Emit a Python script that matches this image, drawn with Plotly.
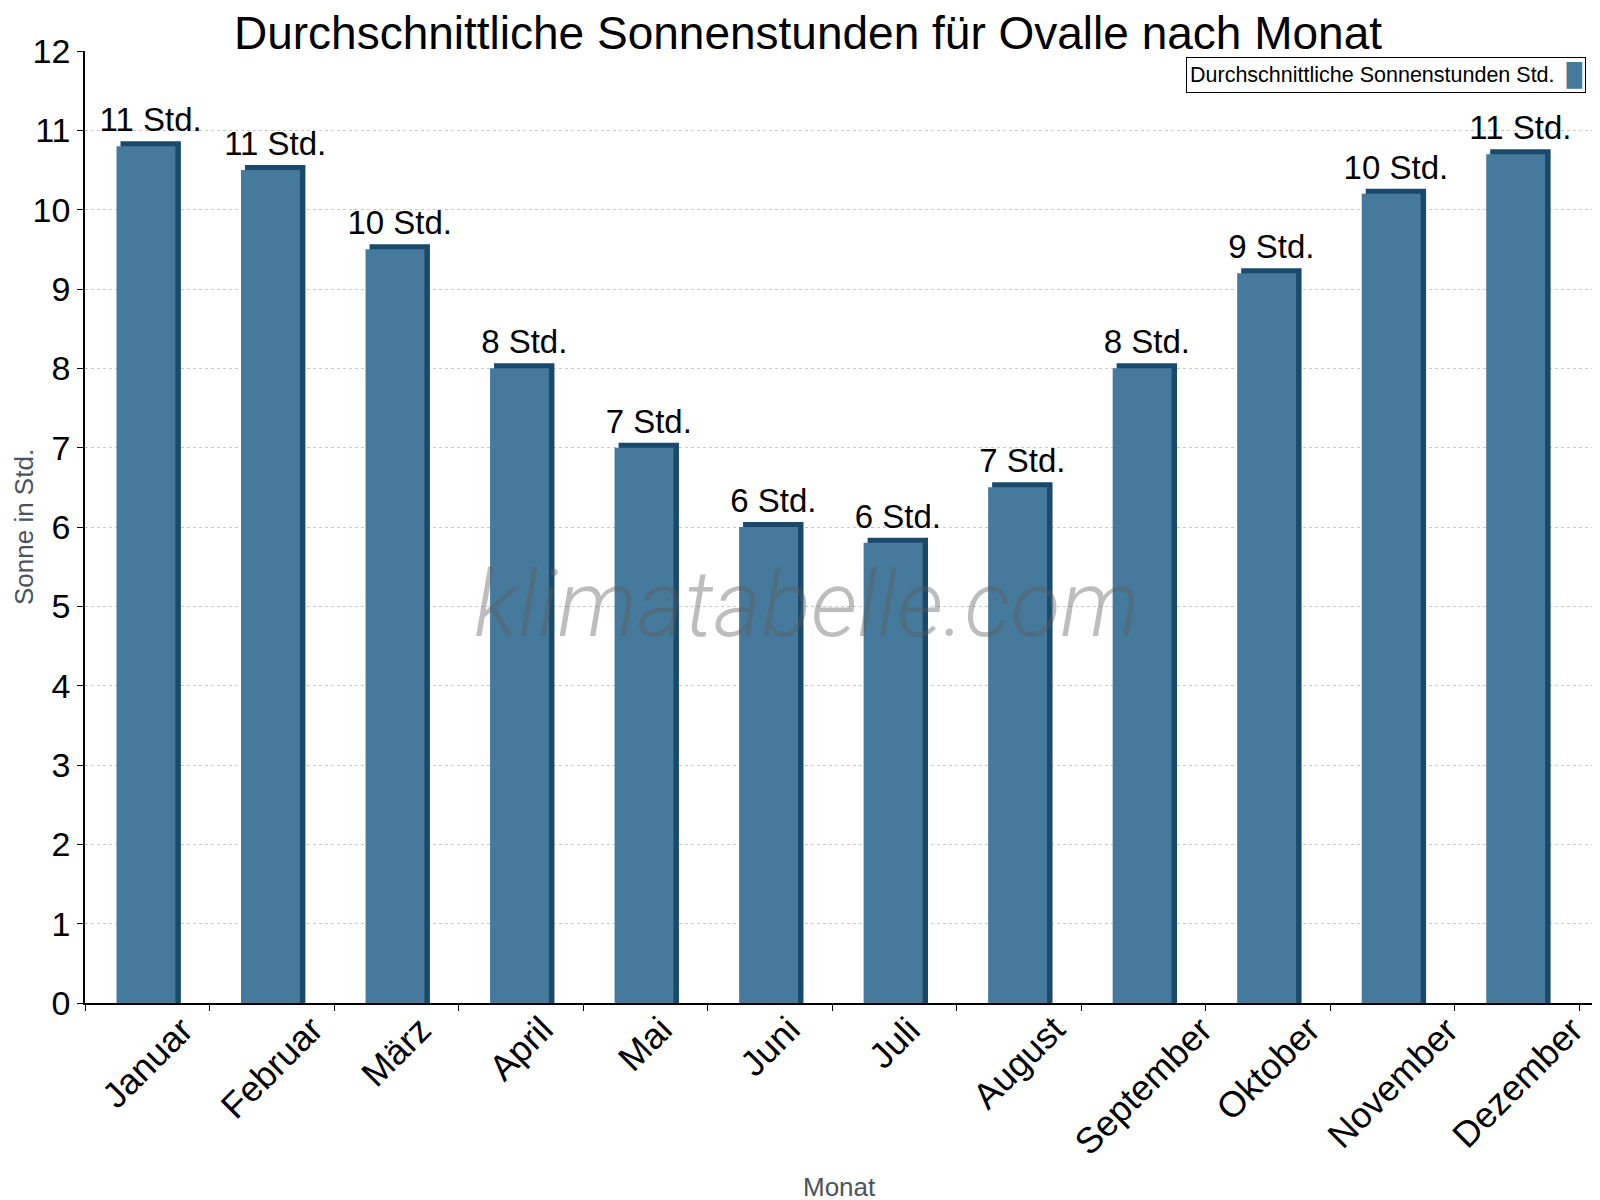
import math

import plotly.graph_objects as go

# Monatliche Sonnenstunden
monate = ["Januar", "Februar", "März", "April", "Mai", "Juni", "Juli",
          "August", "September", "Oktober", "November", "Dezember"]
sonnenstunden = [10.8, 10.5, 9.5, 8.0, 7.0, 6.0, 5.8, 6.5, 8.0, 9.2, 10.2, 10.7]
y_ticks = list(range(0, 13))

# Beschriftung: auf ganze Stunden gerundet
beschriftung = [f"{math.floor(v + 0.5)} Std." for v in sonnenstunden]

front = "#467a9c"
seite = "#1a4a6b"
grau = "#4b535c"
tiefe = 0.063  # Scheintiefe des 3D-Effekts in Stunden

fig = go.Figure()
# Dunkler Körper hinter dem Balken (Seite und Deckel)
fig.add_trace(go.Bar(x=monate, y=[v + tiefe for v in sonnenstunden],
                     width=0.485, offset=-0.215, marker_color=seite,
                     marker_line_width=0, text=beschriftung,
                     textposition="outside", constraintext="none",
                     textfont=dict(size=33, color="black"),
                     cliponaxis=False, showlegend=False, hoverinfo="skip"))
# Vorderseite
fig.add_trace(go.Bar(x=monate, y=sonnenstunden, width=0.473, offset=-0.247,
                     marker_color=front, marker_line_width=0,
                     name="Durchschnittliche Sonnenstunden Std.",
                     showlegend=False))

fig.update_layout(
    width=1600, height=1200, barmode="overlay",
    plot_bgcolor="white", paper_bgcolor="white",
    font=dict(family="Liberation Sans, Arial, sans-serif", color="black"),
    margin=dict(l=77, r=15, t=43, b=205),
    title=dict(text="Durchschnittliche Sonnenstunden für Ovalle nach Monat",
               x=0.5, xref="container", y=0.993, yanchor="top",
               font=dict(size=46, color="black")),
)
fig.update_xaxes(
    showticklabels=False, tickson="boundaries",
    ticks="outside", ticklen=6, tickcolor="black",
    showline=True, linecolor="black", linewidth=1.5, showgrid=False,
    automargin=False,
)
fig.update_yaxes(
    range=[0, 12], tickvals=y_ticks, tickfont=dict(size=34),
    ticks="outside", ticklen=6, tickcolor="black",
    showline=True, mirror=True, linecolor="black", linewidth=1.5,
    showgrid=True, gridcolor="#c8c8c8", griddash="dot", gridwidth=1,
    zeroline=False, automargin=False,
)

# Monatsnamen schräg, mittig unter den Balken
for m in monate:
    fig.add_annotation(text=m, x=m, xref="x", y=0, yref="paper",
                       yshift=-3, xanchor="center", yanchor="top",
                       textangle=-45, showarrow=False,
                       font=dict(size=36, color="black"))

# Achsentitel
fig.add_annotation(text="Monat", xref="paper", yref="paper", x=0.5, y=0,
                   yshift=-184, xanchor="center", yanchor="middle",
                   showarrow=False, font=dict(size=26, color=grau))
fig.add_annotation(text="Sonne in Std.", xref="paper", yref="paper", x=0,
                   y=0.5, xshift=-61, xanchor="center", yanchor="middle",
                   textangle=-90, showarrow=False,
                   font=dict(size=26, color=grau))

# Legende rechts oben (Text links, Farbfeld rechts)
fig.add_annotation(
    text="Durchschnittliche Sonnenstunden Std.  "
         f"<span style='color:{front};font-size:22px'>█</span>",
    xref="paper", yref="paper", x=0.9954, y=0.9937,
    xanchor="right", yanchor="top", showarrow=False,
    font=dict(size=21.5, color="black"),
    bordercolor="black", borderwidth=1, borderpad=3, bgcolor="white",
)
# Wasserzeichen
fig.add_annotation(
    text="<i>klimatabelle.com</i>", xref="paper", yref="paper",
    x=0.479, y=0.419, showarrow=False,
    font=dict(family="Roboto", size=92, color="rgba(90,90,90,0.4)",
              weight=300),
)

fig.write_html("out.html")
